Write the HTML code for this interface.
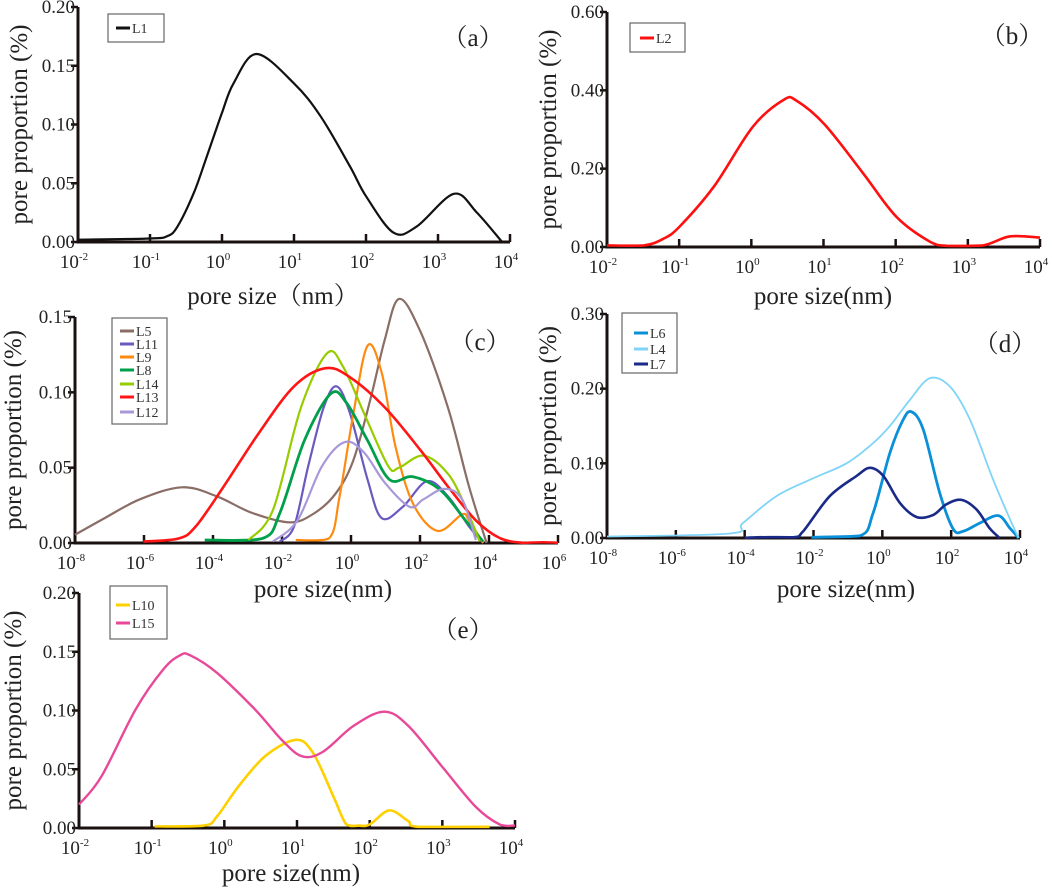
<!DOCTYPE html>
<html><head><meta charset="utf-8">
<style>
html,body{margin:0;padding:0;background:#fff;}
svg{display:block;font-family:"Liberation Serif","Noto Serif CJK SC",serif;}
.tick{font-size:19px;fill:#222;font-family:"Liberation Serif",serif;}
.lab{font-size:25px;fill:#222;font-family:"Liberation Serif","Noto Serif CJK SC",serif;}
.leg{font-size:14px;fill:#333;font-family:"Liberation Serif",serif;}
</style></head>
<body>
<svg id="fig" width="1052" height="889" viewBox="0 0 1052 889" xmlns="http://www.w3.org/2000/svg"></svg>
<script>
// ---- data (log10 pore size, pore proportion %) ----
const L1_x=[-2,-1,-0.76,-0.62,-0.39,-0.21,0,0.16,0.48,1.0,1.37,1.78,2.0,2.38,2.7,3.22,3.54,3.89];
const L1_y=[0.002,0.003,0.005,0.013,0.042,0.073,0.110,0.135,0.160,0.135,0.107,0.064,0.039,0.008,0.013,0.041,0.025,0.0];
const L2_x=[-2,-1.49,-1.22,-1,-0.52,0.02,0.45,0.63,1.02,1.55,2.01,2.48,2.71,3.21,3.58,4];
const L2_y=[0.004,0.004,0.021,0.051,0.154,0.307,0.376,0.373,0.312,0.188,0.077,0.013,0.003,0.004,0.027,0.024];
const L5_x=[-8,-7.14,-6.12,-4.9,-3.89,-2.87,-1.76,-1.05,-0.44,0.07,0.58,0.98,1.39,2.0,2.81,3.42,3.93];
const L5_y=[0.0055,0.0165,0.029,0.037,0.031,0.020,0.0137,0.020,0.033,0.055,0.097,0.135,0.162,0.141,0.090,0.0375,0.0];
const L13_x=[-6.02,-5.0,-4.5,-3.69,-2.67,-1.65,-0.74,-0.03,0.98,2.0,2.81,3.62,4.34,5.05,6];
const L13_y=[0.001,0.003,0.011,0.0375,0.073,0.104,0.116,0.110,0.090,0.062,0.0375,0.015,0.003,0.0,0.0];
const L14_x=[-2.97,-2.26,-1.45,-0.69,-0.23,0.38,1.08,1.39,2.1,2.81,3.32,3.73];
const L14_y=[0.002,0.022,0.090,0.126,0.117,0.086,0.051,0.050,0.058,0.046,0.024,0.001];
const L8_x=[-4.24,-2.57,-2.06,-1.35,-0.59,-0.13,0.48,1.12,1.8,2.6,3.32,3.83];
const L8_y=[0.002,0.003,0.020,0.068,0.099,0.093,0.068,0.042,0.044,0.035,0.015,0.001];
const L11_x=[-2.06,-1.65,-1.24,-0.79,-0.42,-0.03,0.48,0.89,1.5,2.2,2.81,3.42,3.83];
const L11_y=[0.001,0.011,0.051,0.090,0.104,0.086,0.042,0.0165,0.024,0.041,0.031,0.011,0.0];
const L9_x=[-1.6,-0.64,-0.33,0.07,0.48,0.89,1.29,1.8,2.51,3.22,3.42,3.83];
const L9_y=[0.002,0.003,0.031,0.086,0.131,0.113,0.064,0.026,0.008,0.019,0.015,0.0];
const L12_x=[-2.26,-1.55,-0.84,-0.18,0.38,0.98,1.7,2.1,2.71,3.22,3.62];
const L12_y=[0.001,0.015,0.051,0.067,0.060,0.040,0.024,0.029,0.036,0.029,0.002];
const L4_x=[-8,-4.43,-4.05,-3.08,-2.01,-1.04,-0.27,0.22,0.8,1.38,1.96,2.54,3.22,3.71,3.96];
const L4_y=[0.002,0.006,0.020,0.056,0.080,0.100,0.127,0.150,0.185,0.214,0.203,0.159,0.078,0.025,0.0];
const L6_x=[-2.06,-0.65,-0.27,0.22,0.6,0.85,1.19,1.67,2.06,2.35,2.83,3.37,3.71,3.96];
const L6_y=[0.001,0.003,0.033,0.114,0.158,0.169,0.145,0.060,0.012,0.009,0.020,0.030,0.013,0.0];
const L7_x=[-4.0,-2.6,-2.3,-1.53,-0.75,-0.36,0.03,0.51,1.0,1.48,1.86,2.3,2.74,3.12,3.41];
const L7_y=[0.0,0.001,0.009,0.056,0.083,0.094,0.083,0.047,0.028,0.031,0.045,0.051,0.038,0.013,0.0];
const L15_x=[-2,-1.69,-1.22,-0.84,-0.61,-0.47,-0.1,0.42,0.79,1.07,1.36,1.78,2.2,2.53,3.0,3.46,3.79,4];
const L15_y=[0.020,0.044,0.101,0.135,0.147,0.147,0.132,0.101,0.075,0.061,0.065,0.087,0.099,0.087,0.052,0.018,0.003,0.002];
const L10_x=[-0.96,-0.28,-0.1,0.19,0.56,0.98,1.22,1.5,1.68,1.85,2.0,2.27,2.53,2.67,3.65];
const L10_y=[0.0014,0.002,0.010,0.035,0.061,0.075,0.064,0.027,0.003,0.002,0.003,0.015,0.006,0.001,0.001];

const aTicksY=["0.00","0.05","0.10","0.15","0.20"];
const bTicksY=["0.00","0.20","0.40","0.60"];
const cTicksY=["0.00","0.05","0.10","0.15"];
const dTicksY=["0.00","0.10","0.20","0.30"];
const eTicksY=["0.00","0.05","0.10","0.15","0.20"];

const NS="http://www.w3.org/2000/svg";
const svg=document.getElementById('fig');
function el(tag,attrs,parent){const e=document.createElementNS(NS,tag);for(const k in attrs)e.setAttribute(k,attrs[k]);(parent||svg).appendChild(e);return e;}

function smoothPath(pts,ymax){
  let d="M"+pts[0][0].toFixed(1)+","+pts[0][1].toFixed(1);
  for(let i=0;i<pts.length-1;i++){
    const p0=pts[Math.max(0,i-1)],p1=pts[i],p2=pts[i+1],p3=pts[Math.min(pts.length-1,i+2)];
    const c1x=p1[0]+(p2[0]-p0[0])/6,c1y=Math.min(ymax,p1[1]+(p2[1]-p0[1])/6);
    const c2x=p2[0]-(p3[0]-p1[0])/6,c2y=Math.min(ymax,p2[1]-(p3[1]-p1[1])/6);
    d+=" C"+c1x.toFixed(1)+","+c1y.toFixed(1)+" "+c2x.toFixed(1)+","+c2y.toFixed(1)+" "+p2[0].toFixed(1)+","+p2[1].toFixed(1);
  }
  return d;
}

function panel(cfg){
  const g=el('g',{});
  
  
  const X=v=>cfg.x0+(v-cfg.lmin)*(cfg.x1-cfg.x0)/(cfg.lmax-cfg.lmin);
  const Y=v=>cfg.y0-(v/cfg.vmax)*(cfg.y0-cfg.y1);
  const nT=cfg.yt.length;
  cfg.yt.forEach((t,i)=>{
    const v=cfg.vmax*i/(nT-1),y=Y(v);
    const tl=el('line',{x1:cfg.x0-7,y1:y,x2:cfg.x0,y2:y,stroke:'#1a1010','stroke-width':2.5},g);
    
    const tx=el('text',{x:cfg.x0-3,y:y+6,'text-anchor':'end',class:'tick'},g);
    tx.textContent=t;
    
  });
  for(let e=cfg.lmin;e<=cfg.lmax;e+=cfg.step){
    const x=X(e);
    const tl=el('line',{x1:x,y1:cfg.y0,x2:x,y2:cfg.y0-8,stroke:'#1a1010','stroke-width':2.5},g);
    
    const tx=el('text',{x:x-4,y:cfg.y0+26,'text-anchor':'middle',class:'tick'},g);
    
    tx.appendChild(document.createTextNode('10'));
    const sp=el('tspan',{dy:-8,'font-size':11},tx);sp.textContent=String(e);
  }
  const ax=el('path',{d:`M${cfg.x0},${cfg.y1} L${cfg.x0},${cfg.y0} L${cfg.x1},${cfg.y0}`,fill:'none',stroke:'#1a1010','stroke-width':3},g);
  
  cfg.series.forEach(s=>{
    const pts=s.x.map((v,i)=>[X(v),Y(s.y[i])]);
    const p=el('path',{d:smoothPath(pts,cfg.y0-1),fill:'none',stroke:s.c,'stroke-width':s.w||2.2,'stroke-linejoin':'round'},g);
    
    
  });
  const xl=el('text',{x:cfg.xlx,y:cfg.xly,'text-anchor':'middle',class:'lab'},g);
  xl.textContent=cfg.xlt;
  
  const yl=el('text',{x:0,y:0,'text-anchor':'middle',class:'lab',transform:`translate(${cfg.ylx},${(cfg.y0+cfg.y1)/2}) rotate(-90)`},g);
  yl.textContent='pore proportion (%)';
  
  const pl=el('text',{x:cfg.plx,y:cfg.ply,'text-anchor':'middle',class:'lab','font-size':21},g);
  pl.textContent='（'+cfg.id+'）';
  
  const L=cfg.leg;
  const lb=el('rect',{x:L.x,y:L.y,width:L.w,height:L.h,fill:'#fff',stroke:'#666','stroke-width':1.2},g);
  
  cfg.series.forEach((s,i)=>{
    const yy=L.ey[i];
    const ll=el('line',{x1:L.x+L.lx,y1:yy,x2:L.x+L.lx+14,y2:yy,stroke:s.c,'stroke-width':3},g);
    
    const lt=el('text',{x:L.x+L.lx+16,y:yy+5,class:'leg'},g);
    lt.textContent=s.n;
    
  });
}

panel({id:'a',x0:78,x1:510,y0:242,y1:7,lmin:-2,lmax:4,step:1,vmax:0.2,yt:aTicksY,
  series:[{n:'L1',x:L1_x,y:L1_y,c:'#111'}],
  xlt:'pore size（nm）',xlx:273,xly:304,ylx:27,plx:473,ply:46,
  leg:{x:108,y:14,w:56,h:28,lx:8,ey:[28]}});
panel({id:'b',x0:607,x1:1040,y0:247,y1:12,lmin:-2,lmax:4,step:1,vmax:0.6,yt:bTicksY,
  series:[{n:'L2',x:L2_x,y:L2_y,c:'#ff1010',w:2.6}],
  xlt:'pore size(nm)',xlx:823,xly:304,ylx:556,plx:1012,ply:44,
  leg:{x:630,y:23,w:55,h:29,lx:10,ey:[38]}});
panel({id:'c',x0:75,x1:558,y0:543,y1:317,lmin:-8,lmax:6,step:2,vmax:0.15,yt:cTicksY,
  series:[{n:'L5',x:L5_x,y:L5_y,c:'#8a6e66'},{n:'L11',x:L11_x,y:L11_y,c:'#6a5ac0'},
          {n:'L9',x:L9_x,y:L9_y,c:'#ff8a10'},{n:'L8',x:L8_x,y:L8_y,c:'#00a04a',w:2.8},
          {n:'L14',x:L14_x,y:L14_y,c:'#96cc00'},{n:'L13',x:L13_x,y:L13_y,c:'#ff1515',w:2.6},
          {n:'L12',x:L12_x,y:L12_y,c:'#a898d8'}],
  xlt:'pore size(nm)',xlx:323,xly:597,ylx:21,plx:480,ply:350,
  leg:{x:112,y:318,w:55,h:106,lx:8,ey:[331,344,357,370,384,397,412]}});
panel({id:'d',x0:607,x1:1020,y0:538,y1:314,lmin:-8,lmax:4,step:2,vmax:0.3,yt:dTicksY,
  series:[{n:'L6',x:L6_x,y:L6_y,c:'#0a90d8',w:2.8},{n:'L4',x:L4_x,y:L4_y,c:'#80d4f8',w:1.8},
          {n:'L7',x:L7_x,y:L7_y,c:'#1a2a88',w:2.6}],
  xlt:'pore size(nm)',xlx:846,xly:597,ylx:556,plx:1005,ply:352,
  leg:{x:622,y:313,w:55,h:60,lx:12,ey:[333,349,364]}});
panel({id:'e',x0:79,x1:515,y0:828,y1:593,lmin:-2,lmax:4,step:1,vmax:0.2,yt:eTicksY,
  series:[{n:'L10',x:L10_x,y:L10_y,c:'#ffd000',w:2.6},{n:'L15',x:L15_x,y:L15_y,c:'#e84898',w:2.4}],
  xlt:'pore size(nm)',xlx:291,xly:881,ylx:21,plx:463,ply:638,
  leg:{x:110,y:586,w:57,h:53,lx:6,ey:[605,623]}});
</script>
</body></html>
